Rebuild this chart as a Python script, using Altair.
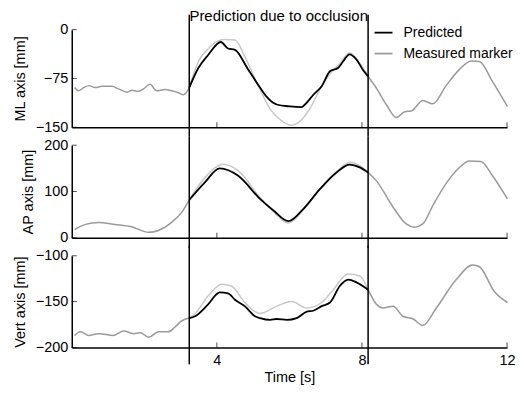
import altair as alt
import pandas as pd

FONT = "Liberation Sans"
T_START, T_END = 3.24, 8.17
SERIES = ["Predicted", "Measured marker"]
COLORS = ["#000000", "#9a9a9a"]
LIGHT = "#c8c8c8"
TITLE_TEXT = "Prediction due to occlusion"
X_TICKS = [4, 8, 12]

# ---- ML axis ----
ml_t = [0.08, 0.19, 0.33, 0.47, 0.65, 0.83, 1.11, 1.29, 1.52, 1.66, 1.82, 1.98, 2.16, 2.34, 2.57, 2.76,
        2.94, 3.08, 3.24, 3.49, 3.75, 4.0, 4.2, 4.5, 4.8, 5.19, 5.47, 5.74, 6.06, 6.29, 6.57, 6.84,
        7.12, 7.39, 7.66, 7.94, 8.17, 8.40, 8.67, 8.95, 9.18, 9.36, 9.68, 9.95, 10.32, 10.69, 11.01,
        11.24, 11.60, 12.01]
ml_meas = [-89, -94, -89, -86, -89, -87, -87, -91, -96, -93, -95, -91, -84, -94, -92, -94,
           -97, -100, -89, -49, -30, -18, -15, -16, -45, -92, -122, -138, -147, -141, -121, -92,
           -68, -52, -36, -52, -72, -90, -115, -135, -126, -125, -109, -114, -86, -61, -48,
           -49, -80, -118]
ml_pt = [3.24, 3.49, 3.76, 4.11, 4.31, 4.50, 4.85, 5.19, 5.37, 5.65, 6.02, 6.34, 6.43, 6.66, 6.89,
         7.12, 7.34, 7.48, 7.66, 7.85, 8.03, 8.17]
ml_pred = [-89, -59, -39, -19, -29, -31, -60, -89, -103, -115, -118, -119, -115, -100, -87,
           -64, -59, -49, -38, -46, -62, -72]

# ---- AP axis ----
ap_t = [0.08, 0.38, 0.74, 1.19, 1.65, 2.12, 2.39, 2.76, 3.03, 3.24, 3.67, 4.18, 4.59, 5.19, 5.56,
        5.97, 6.38, 6.84, 7.30, 7.66, 7.94, 8.17, 8.40, 8.86, 9.22, 9.45, 9.68, 9.95, 10.37, 10.69,
        10.96, 11.28, 11.60, 12.01]
ap_meas = [18, 29, 33, 29, 24, 12, 16, 34, 55, 82, 130, 159, 145, 87, 57,
           32, 60, 105, 143, 163, 156, 141, 123, 66, 30, 23, 30, 69, 123, 152,
           166, 165, 134, 84]
ap_pt = [3.24, 3.67, 4.08, 4.59, 5.19, 5.56, 5.97, 6.38, 6.84, 7.30, 7.66, 7.94, 8.17]
ap_pred = [82, 120, 150, 134, 84, 59, 36, 62, 105, 141, 158, 152, 141]

# ---- Vert axis ----
vt_t = [0.08, 0.24, 0.47, 0.74, 1.15, 1.43, 1.70, 1.89, 2.12, 2.39, 2.66, 2.84, 3.03, 3.24, 3.40,
        3.76, 4.13, 4.40, 4.77, 5.05, 5.19, 5.65, 6.06, 6.48, 6.89, 7.21, 7.62, 7.94, 8.17, 8.40,
        8.58, 8.86, 9.13, 9.41, 9.68, 10.05, 10.60, 11.05, 11.24, 11.65, 12.01]
vt_meas = [-187, -183, -187, -185, -187, -182, -185, -184, -189, -183, -183, -178, -171, -168, -163,
           -144, -131, -133, -151, -161, -163, -155, -150, -157, -151, -137, -120, -122, -137, -153,
           -157, -155, -166, -169, -176, -157, -126, -110, -112, -139, -151]
vt_pt = [3.24, 3.40, 3.76, 4.08, 4.31, 4.50, 4.77, 5.05, 5.19, 5.47, 5.65, 5.93, 6.20, 6.48, 6.66,
         6.89, 7.12, 7.39, 7.62, 7.85, 8.17]
vt_pred = [-168, -166, -153, -140, -141, -148, -155, -166, -168, -170, -169, -170, -168, -161, -160,
           -155, -151, -133, -126, -129, -137]


def split_segments(ts, vs):
    rows = []
    for t, v in zip(ts, vs):
        if t <= T_START + 1e-9:
            rows.append({"t": t, "v": v, "seg": "before"})
        if T_START - 1e-9 <= t <= T_END + 1e-9:
            rows.append({"t": t, "v": v, "seg": "during"})
        if t >= T_END - 1e-9:
            rows.append({"t": t, "v": v, "seg": "after"})
    return pd.DataFrame(rows)


def panel(ts, vs, pts, pvs, domain, ticks, title, height, show_x, top_ext, bot_ext, first=False):
    df = split_segments(ts, vs)
    df_out = df[df.seg != "during"].assign(series="Measured marker")
    df_in = df[df.seg == "during"]
    df_pred = pd.DataFrame({"t": pts, "v": pvs, "series": "Predicted"})

    xs = alt.Scale(domain=[0, 12], nice=False)
    ys = alt.Scale(domain=domain, nice=False, zero=False)
    x = alt.X("t:Q", scale=xs,
              axis=alt.Axis(values=X_TICKS, labels=show_x, title="Time [s]" if show_x else None,
                            labelPadding=6, titlePadding=4, labelFlush=False))
    y = alt.Y("v:Q", scale=ys,
              axis=alt.Axis(values=ticks, title=title, labelPadding=4, titlePadding=8))

    if first:
        legend = alt.Legend(orient="none", legendX=303, legendY=-7, title=None,
                            symbolType="stroke", symbolSize=324, symbolStrokeWidth=1.8,
                            labelFont=FONT, labelFontSize=14, labelColor="black",
                            labelOffset=10, rowPadding=4)
    else:
        legend = None
    color = alt.Color("series:N", scale=alt.Scale(domain=SERIES, range=COLORS), legend=legend)

    outside = alt.Chart(df_out).mark_line(strokeWidth=1.5, interpolate="monotone").encode(
        x=x, y=y, color=color, detail="seg:N")
    inside = alt.Chart(df_in).mark_line(strokeWidth=1.5, color=LIGHT, interpolate="monotone").encode(
        x=x, y=y)
    pred = alt.Chart(df_pred).mark_line(strokeWidth=1.8, interpolate="monotone").encode(
        x=x, y=y, color=color)
    rules = alt.Chart(pd.DataFrame({"t": [T_START, T_END]})).mark_rule(
        color="black", strokeWidth=1.5).encode(
        x="t:Q", y=alt.value(-top_ext), y2=alt.value(height + bot_ext))
    xticks = alt.Chart(pd.DataFrame({"t": X_TICKS})).mark_tick(
        orient="vertical", size=5, thickness=1, color="black").encode(
        x=alt.X("t:Q", scale=xs), y=alt.value(height - 2.5))
    yticks = alt.Chart(pd.DataFrame({"v": ticks})).mark_tick(
        orient="horizontal", size=5, thickness=1, color="black").encode(
        y=alt.Y("v:Q", scale=ys), x=alt.value(2.5))
    layers = [outside, inside, pred, rules, xticks, yticks]
    if first:
        txt = alt.Chart(pd.DataFrame({"t": [(T_START + T_END) / 2], "label": [TITLE_TEXT]})).mark_text(
            font=FONT, fontSize=15, baseline="alphabetic", align="center", color="black").encode(
            x="t:Q", y=alt.value(-9), text="label:N")
        layers.append(txt)
    return alt.layer(*layers).properties(width=437, height=height)


p1 = panel(ml_t, ml_meas, ml_pt, ml_pred, [-150, 0], [-150, -75, 0], "ML axis [mm]", 98, False, 15, 9, True)
p2 = panel(ap_t, ap_meas, ap_pt, ap_pred, [0, 200], [0, 100, 200], "AP axis [mm]", 93, False, 9, 10)
p3 = panel(vt_t, vt_meas, vt_pt, vt_pred, [-200, -100], [-200, -150, -100], "Vert axis [mm]", 92, True, 10, 17)

chart = alt.vconcat(p1, p2, p3, spacing=18, bounds="flush").resolve_scale(
    color="independent"
).properties(
    padding={"left": 4, "top": 0, "right": 0, "bottom": 0}
).configure_view(stroke=None).configure_axis(
    grid=False, ticks=False, domainColor="black", domainWidth=1.5,
    labelFont=FONT, labelFontSize=14.5, labelColor="black",
    titleFont=FONT, titleFontSize=14.5, titleFontWeight="normal", titleColor="black"
)

chart.save("out.html", embed_options={"renderer": "svg", "actions": False})
